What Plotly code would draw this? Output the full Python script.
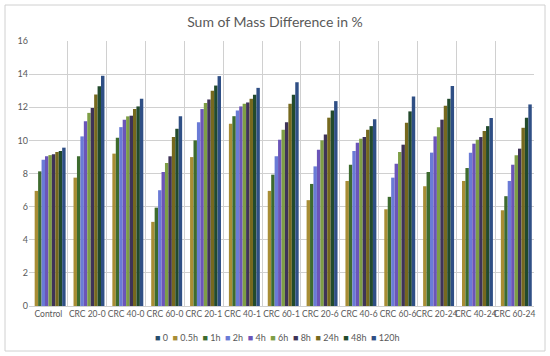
import plotly.graph_objects as go

categories = ["Control", "CRC 20-0", "CRC 40-0", "CRC 60-0", "CRC 20-1", "CRC 40-1",
              "CRC 60-1", "CRC 20-6", "CRC 40-6", "CRC 60-6", "CRC 20-24", "CRC 40-24", "CRC 60-24"]

series_names = ["0", "0.5h", "1h", "2h", "4h", "6h", "8h", "24h", "48h", "120h"]

s_0    = [0, 0, 0, 0, 0, 0, 0, 0, 0, 0, 0, 0, 0]
s_05h  = [6.95, 7.75, 9.20, 5.08, 8.99, 11.00, 6.95, 6.39, 7.55, 5.84, 7.23, 7.55, 5.78]
s_1h   = [8.13, 9.04, 10.16, 5.94, 10.00, 11.46, 7.93, 7.37, 8.53, 6.59, 8.09, 8.33, 6.63]
s_2h   = [8.83, 10.24, 10.80, 6.99, 11.10, 11.81, 9.04, 8.43, 9.36, 7.75, 9.26, 9.26, 7.55]
s_4h   = [9.04, 11.16, 11.25, 8.09, 11.89, 12.05, 10.04, 9.44, 9.86, 8.59, 10.24, 9.80, 8.53]
s_6h   = [9.11, 11.66, 11.45, 8.63, 12.25, 12.21, 10.64, 10.00, 10.10, 9.30, 10.80, 10.04, 9.10]
s_8h   = [9.16, 11.95, 11.49, 9.04, 12.47, 12.29, 11.10, 10.36, 10.20, 9.74, 11.25, 10.20, 9.50]
s_24h  = [9.30, 12.77, 11.89, 10.20, 12.99, 12.51, 12.21, 11.37, 10.64, 11.07, 12.09, 10.56, 10.76]
s_48h  = [9.36, 13.27, 12.05, 10.70, 13.31, 12.75, 12.75, 11.81, 10.86, 11.75, 12.51, 10.86, 11.37]
s_120h = [9.56, 13.90, 12.51, 11.45, 13.88, 13.17, 13.51, 12.37, 11.27, 12.65, 13.29, 11.35, 12.17]

series_values = [s_0, s_05h, s_1h, s_2h, s_4h, s_6h, s_8h, s_24h, s_48h, s_120h]
colors = ["#264E6E", "#A88D35", "#3D6B2E", "#6A7BD6", "#6B55B8",
          "#7E9E45", "#3E3358", "#76691E", "#224A2C", "#2F4F85"]

y_ticks = [0, 2, 4, 6, 8, 10, 12, 14, 16]

FONT = "Lato, 'Open Sans', sans-serif"
GRAY = "#595959"
GRID = "#D0D0D0"

positions = list(range(len(categories)))
boundaries = [p - 0.5 for p in positions] + [len(categories) - 0.5]

fig = go.Figure()
for name, vals, col in zip(series_names, series_values, colors):
    fig.add_trace(go.Bar(x=positions, y=vals, name=name, marker_color=col,
                         marker_line_width=0, showlegend=False))

W, H = 550, 356
ml, mr, mt, mb = 29, 16, 41, 50
pw, ph = W - ml - mr, H - mt - mb

def px_to_paper(x, y):
    return (x - ml) / pw, (H - mb - y) / ph

fig.update_layout(
    width=W, height=H,
    margin=dict(l=ml, r=mr, t=mt, b=mb),
    barmode="group", bargap=0.115, bargroupgap=0,
    paper_bgcolor="white", plot_bgcolor="white",
    font=dict(family=FONT, color=GRAY, size=9),
    title=dict(text="Sum of Mass Difference in %", x=275 / W, xanchor="center",
               y=1 - 22 / H, yanchor="middle",
               font=dict(family=FONT, size=14, color=GRAY)),
)

fig.update_xaxes(type="linear", range=[-0.5, len(categories) - 0.5],
                 tickmode="array", tickvals=positions, ticktext=categories,
                 showgrid=False, ticks="", showline=True, linecolor=GRID, linewidth=1,
                 zeroline=False, tickangle=0, automargin=False,
                 minor=dict(tickmode="array", tickvals=boundaries, showgrid=True,
                            gridcolor=GRID, gridwidth=1, ticks=""),
                 tickfont=dict(family=FONT, size=8.5, color=GRAY))
fig.update_yaxes(range=[0, 16], tickvals=y_ticks, showgrid=True, gridcolor=GRID,
                 gridwidth=1, zeroline=False, showline=False, ticks="", automargin=False,
                 tickfont=dict(family=FONT, size=9, color=GRAY))

# outer chart border
x0, y0 = px_to_paper(5, 5)
x1, y1 = px_to_paper(545, 351)
fig.add_shape(type="rect", xref="paper", yref="paper", x0=x0, y0=y1, x1=x1, y1=y0,
              line=dict(color=GRID, width=1), fillcolor="rgba(0,0,0,0)", layer="above")

# legend built from series names & colors
parts = []
for name, col in zip(series_names, colors):
    parts.append(f"<span style='color:{col}'>■</span> {name}")
legend_text = "  ".join(parts)
lx, ly = px_to_paper(277, 337)
fig.add_annotation(text=legend_text, xref="paper", yref="paper", x=lx, y=ly,
                   xanchor="center", yanchor="middle", showarrow=False,
                   font=dict(family=FONT, size=9, color=GRAY))

fig.write_html("out.html", config={"displayModeBar": False},
               post_script="document.body.style.margin='0';")
